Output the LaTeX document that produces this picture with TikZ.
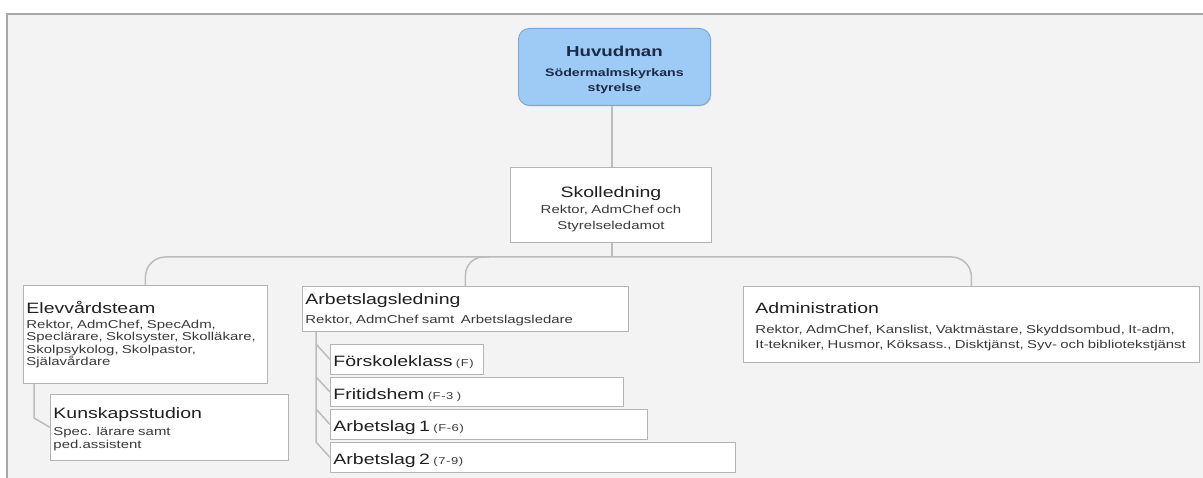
\documentclass[tikz,border=0pt]{standalone}
\usepackage{fontspec}
\setmainfont{Liberation Sans}[FakeStretch=1.3]
\usetikzlibrary{shadows}
\definecolor{panelbg}{HTML}{F3F3F3}
\definecolor{panelln}{HTML}{A8A8A8}
\definecolor{boxln}{HTML}{B4B4B4}
\definecolor{connln}{HTML}{BCBCBC}
\definecolor{huvfill}{HTML}{9DCBF6}
\definecolor{huvln}{HTML}{78A6D6}
\definecolor{ttlc}{HTML}{202020}
\definecolor{subc}{HTML}{3A3A3A}
\definecolor{huvtxt}{HTML}{1C2A44}
\newcommand\ttl{\fontsize{15}{17}\selectfont\color{ttlc}}
\newcommand\sbt[1]{\fontsize{11.5}{#1}\selectfont\color{subc}}
\newcommand\tny{\fontsize{10}{12}\selectfont\addfontfeature{LetterSpace=6}\color{subc}}
\newcommand\lift[1]{\rule{0pt}{#1pt}}
\tikzset{
  orgbox/.style={draw=boxln, line width=0.9pt, fill=white, anchor=north west, inner ysep=0pt, align=left,
    drop shadow={shadow xshift=1pt, shadow yshift=-1pt, opacity=0.25, fill=black!50}},
  conn/.style={draw=connln, line width=1.5pt},
  panel/.style={fill=panelbg, draw=panelln, line width=1.6pt}
}
\begin{document}
\begin{tikzpicture}[x=1pt,y=-1pt]
\useasboundingbox (0,0) rectangle (1203,478);
\fill[white] (0,0) rectangle (1203,478);
\draw[panel] (7,14) rectangle (1220,495);

% top
\node[orgbox, fill=huvfill, draw=huvln, rounded corners=11pt, align=center,
      inner xsep=4pt, text width=184pt, minimum height=77pt, text=huvtxt] (huv) at (518,28)
  {\fontsize{14.4}{20}\selectfont\bfseries\lift{16.5}Huvudman\\[5pt]
   \fontsize{10.9}{15}\selectfont\bfseries Södermalmskyrkans\\styrelse\par};

\node[orgbox, align=center, inner xsep=4pt, text width=193pt, minimum height=75pt] (skol) at (510,167)
  {\ttl\lift{19}Skolledning\\[0pt]\sbt{16}Rektor, AdmChef och\\Styrelseledamot\par};

% second level
\node[orgbox, inner xsep=3pt, text width=238pt, minimum height=98pt] (elev) at (23,285)
  {\ttl Elevvårdsteam\\[2.6pt]\sbt{12.4}\mbox{Rektor, AdmChef, SpecAdm,}\\\mbox{Speclärare, Skolsyster, Skolläkare,}\\\mbox{Skolpsykolog, Skolpastor,}\\Själavårdare\par};

\node[orgbox, inner xsep=3pt, text width=232pt, minimum height=66pt] (kun) at (50,394)
  {\ttl\lift{15}Kunskapsstudion\\[4pt]\sbt{13}Spec. lärare samt\\ped.assistent\par};

\node[orgbox, inner xsep=3pt, text width=320pt, minimum height=45pt] (arb) at (302,286)
  {\ttl\lift{13}Arbetslagsledning\\[5pt]\sbt{14}\mbox{Rektor, AdmChef samt\ \ Arbetslagsledare}\par};

\node[orgbox, inner xsep=12pt, text width=432pt, minimum height=76pt] (adm) at (743,286)
  {\ttl\lift{15}Administration\\[5pt]\sbt{15}\mbox{Rektor, AdmChef, Kanslist, Vaktmästare, Skyddsombud, It-adm,}\\\mbox{It-tekniker, Husmor, Köksass., Disktjänst, Syv- och bibliotekstjänst}\par};

% children of Arbetslagsledning
\node[orgbox, inner xsep=3pt, text width=147pt, minimum height=30pt] (fsk) at (330,344)
  {\ttl\lift{17}Förskoleklass {\tny (F)}\par};
\node[orgbox, inner xsep=3pt, text width=287pt, minimum height=29pt] (fri) at (330,377)
  {\ttl\lift{17}Fritidshem {\tny (F-3 )}\par};
\node[orgbox, inner xsep=3pt, text width=311pt, minimum height=30pt] (al1) at (330,409)
  {\ttl\lift{17}Arbetslag 1 {\tny (F-6)}\par};
\node[orgbox, inner xsep=3pt, text width=399pt, minimum height=30pt] (al2) at (330,442)
  {\ttl\lift{17}Arbetslag 2 {\tny (7-9)}\par};

% connectors
\coordinate (bus) at (612,257);
\draw[conn] (huv.south -| bus) -- (skol.north -| bus);
\draw[conn] (skol.south -| bus) -- (bus);
\draw[conn, rounded corners=20pt] (elev.north) |- (bus) -| (adm.north);
\draw[conn, rounded corners=18pt] (arb.north) |- ([xshift=24pt]arb.north |- bus);

\draw[conn] ([xshift=14pt]arb.south west) coordinate (av) -- (av |- al2.north) -- (al2.west);
\draw[conn] (av |- fsk.north) -- (fsk.west);
\draw[conn] (av |- fri.north) -- (fri.west);
\draw[conn] (av |- al1.north) -- (al1.west);

\draw[conn] ([xshift=11pt]elev.south west) -- ++(0,34) coordinate (kv) -- (kun.west);
\end{tikzpicture}
\end{document}
